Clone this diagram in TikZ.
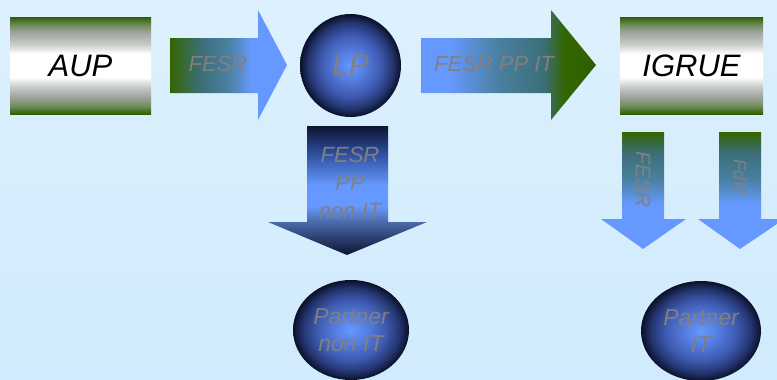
\documentclass[tikz,border=0pt]{standalone}
\usepackage{fontspec}
\setmainfont{Liberation Sans}
\usetikzlibrary{shapes.geometric}
\definecolor{grn}{RGB}{51,102,0}
\definecolor{dgrn}{RGB}{45,95,0}
\definecolor{lblue}{RGB}{102,153,255}
\definecolor{tealA}{RGB}{60,110,120}
\definecolor{tealB}{RGB}{74,128,160}
\definecolor{boxgA}{RGB}{110,140,90}
\definecolor{boxgB}{RGB}{200,204,200}
\definecolor{boxgC}{RGB}{160,165,160}
\definecolor{navyA}{RGB}{12,20,50}
\definecolor{navyB}{RGB}{48,80,160}
\definecolor{navyC}{RGB}{74,106,168}
\definecolor{navyD}{RGB}{42,58,106}
\definecolor{sphB}{RGB}{85,125,225}
\definecolor{sphC}{RGB}{62,90,175}
\definecolor{sphD}{RGB}{35,52,110}
\definecolor{sphE}{RGB}{10,16,40}
\definecolor{bgtop}{RGB}{221,240,253}
\definecolor{bgbot}{RGB}{208,235,253}
\definecolor{txtgray}{RGB}{128,128,128}
\pgfdeclareverticalshading{boxsh}{100bp}{color(0bp)=(dgrn); color(25bp)=(dgrn); color(29bp)=(boxgA); color(34bp)=(boxgC); color(39bp)=(boxgB); color(44bp)=(white); color(56bp)=(white); color(61bp)=(boxgB); color(67bp)=(boxgC); color(71bp)=(boxgA); color(75bp)=(dgrn); color(100bp)=(dgrn)}
\pgfdeclarehorizontalshading{fesrsh}{100bp}{color(0bp)=(grn); color(25bp)=(grn); color(38bp)=(tealA); color(50bp)=(tealB); color(60bp)=(lblue); color(100bp)=(lblue)}
\pgfdeclarehorizontalshading{ppitsh}{100bp}{color(0bp)=(lblue); color(25bp)=(lblue); color(33bp)=(lblue); color(47bp)=(tealB); color(60bp)=(tealA); color(66bp)=(grn); color(75bp)=(dgrn); color(100bp)=(dgrn)}
\pgfdeclareverticalshading{lpdownsh}{100bp}{color(0bp)=(navyA); color(25bp)=(navyA); color(31bp)=(navyD); color(37.8bp)=(navyC); color(44bp)=(lblue); color(52bp)=(lblue); color(64bp)=(navyB); color(75bp)=(navyA); color(100bp)=(navyA)}
\pgfdeclareverticalshading{igdownsh}{100bp}{color(0bp)=(lblue); color(25bp)=(lblue); color(44bp)=(lblue); color(55bp)=(tealB); color(66bp)=(tealA); color(75bp)=(grn); color(100bp)=(grn)}
\pgfdeclareradialshading{sphsh}{\pgfpoint{0bp}{0bp}}{color(0bp)=(lblue); color(7bp)=(sphB); color(15bp)=(sphC); color(21bp)=(sphD); color(25bp)=(sphE); color(50bp)=(sphE)}
\tikzset{
  boxnode/.style={rectangle, shading=boxsh, minimum width=141pt, minimum height=97pt, inner sep=0pt, font=\fontsize{31}{34}\selectfont\itshape, text=black},
  sphnode/.style={ellipse, shading=sphsh, inner sep=0pt, text=txtgray, align=center},
  arrtext/.style={text=txtgray, font=\fontsize{22}{28}\selectfont\itshape, align=center, inner sep=0pt}
}
\begin{document}
\begin{tikzpicture}[x=1pt,y=-1pt]
\path[use as bounding box, top color=bgtop, bottom color=bgbot] (0,0) rectangle (777,380);
\clip (0,0) rectangle (777,380);
% boxes
\node[boxnode] (aup) at (80.5,65.5) {AUP};
\node[boxnode, minimum width=143pt] (igrue) at (691.5,65.5) {IGRUE};
% spheres
\node[sphnode, minimum width=101pt, minimum height=103pt, font=\fontsize{30}{34}\selectfont\itshape] (lp) at (350.5,65.5) {LP};
\node[sphnode, minimum width=116pt, minimum height=100pt, font=\fontsize{23}{27}\selectfont\itshape] (pnonit) at (351,330) {Partner\\non IT};
\node[sphnode, minimum width=120pt, minimum height=100pt, font=\fontsize{23}{27}\selectfont\itshape] (pit) at (701,331) {Partner\\IT};
% horizontal arrows
\path[shading=fesrsh] (170,38) -- (258,38) -- (258,10) -- (287,65) -- (258,120) -- (258,93) -- (170,93) -- cycle;
\node[arrtext] (tfesr) at (218,64) {FESR};
\path[shading=ppitsh] (421,38) -- (551,38) -- (551,10) -- (596,65) -- (551,120) -- (551,93) -- (421,93) -- cycle;
\node[arrtext] (tppit) at (494,64) {FESR PP IT};
% down arrow from LP
\path[shading=lpdownsh] (307,126) -- (388,126) -- (388,222) -- (427,222) -- (347,255) -- (268,222) -- (307,222) -- cycle;
\node[arrtext] (tppnonit) at (350,183) {FESR\\PP\\non IT};
% down arrows from IGRUE
\path[shading=igdownsh] (622,132) -- (664,132) -- (664,219) -- (686,219) -- (643,249) -- (601,219) -- (622,219) -- cycle;
\node[arrtext, rotate=-90, font=\fontsize{21}{24}\selectfont\itshape] (tfesr2) at (643,180) {FESR};
\path[shading=igdownsh] (719,132) -- (761,132) -- (761,219) -- (777,219) -- (777,224) -- (740,249) -- (698,219) -- (719,219) -- cycle;
\node[arrtext, rotate=-90, font=\fontsize{18}{22}\selectfont\itshape] (tfdr) at (740,177) {FdR};
\end{tikzpicture}
\end{document}
